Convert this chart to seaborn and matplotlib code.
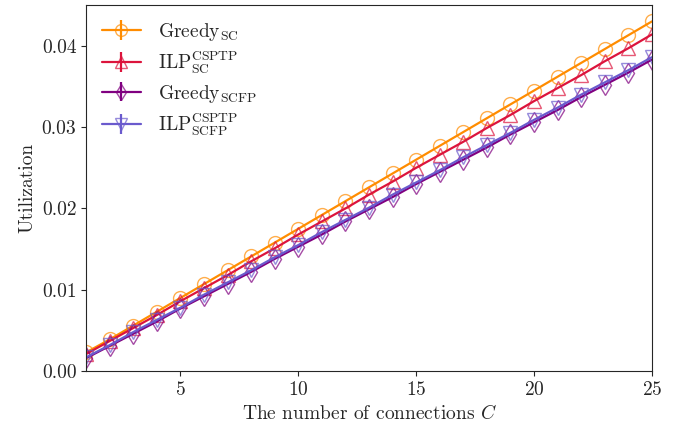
import numpy as np
import seaborn as sns
import matplotlib
matplotlib.use('Agg')
import matplotlib.pyplot as plt
from matplotlib.colors import to_rgba

connections = list(range(1, 26))

greedy_sc = [0.0023, 0.0039, 0.0056, 0.0073, 0.0090, 0.0107, 0.0124, 0.0141, 0.0158, 0.0175,
             0.0192, 0.0209, 0.0226, 0.0243, 0.0260, 0.0277, 0.0294, 0.0311, 0.0328, 0.0345,
             0.0362, 0.0379, 0.0396, 0.0413, 0.0430]
ilp_sc = [0.0021, 0.0037, 0.0053, 0.0069, 0.0086, 0.0102, 0.0118, 0.0135, 0.0151, 0.0168,
          0.0184, 0.0200, 0.0217, 0.0233, 0.0250, 0.0266, 0.0282, 0.0299, 0.0315, 0.0332,
          0.0348, 0.0364, 0.0381, 0.0397, 0.0414]
greedy_scfp = [0.0016, 0.0031, 0.0046, 0.0061, 0.0077, 0.0092, 0.0107, 0.0122, 0.0138, 0.0153,
               0.0168, 0.0184, 0.0199, 0.0214, 0.0230, 0.0245, 0.0260, 0.0275, 0.0291, 0.0306,
               0.0321, 0.0337, 0.0352, 0.0367, 0.0383]
ilp_scfp = [0.0017, 0.0032, 0.0048, 0.0063, 0.0078, 0.0094, 0.0109, 0.0124, 0.0140, 0.0155,
            0.0171, 0.0186, 0.0201, 0.0217, 0.0232, 0.0247, 0.0263, 0.0278, 0.0293, 0.0309,
            0.0324, 0.0340, 0.0355, 0.0370, 0.0386]

labels = [r'$\mathrm{Greedy}_{\mathrm{SC}}$',
          r'$\mathrm{ILP}_{\mathrm{SC}}^{\mathrm{CSPTP}}$',
          r'$\mathrm{Greedy}_{\mathrm{SCFP}}$',
          r'$\mathrm{ILP}_{\mathrm{SCFP}}^{\mathrm{CSPTP}}$']

sns.set_style('ticks')
plt.rcParams['font.family'] = ['cmr10', 'DejaVu Serif']
plt.rcParams['mathtext.fontset'] = 'cm'
plt.rcParams['axes.formatter.use_mathtext'] = True

fig = plt.figure(figsize=(6.84, 4.32), dpi=100)
ax = fig.add_axes([0.126, 0.141, 0.827, 0.847])

series = [greedy_sc, ilp_sc, greedy_scfp, ilp_scfp]
colors = ['darkorange', 'crimson', 'purple', 'slateblue']
markers = ['o', '^', 'd', 'v']
for vals, lab, col, mk in zip(series, labels, colors, markers):
    ax.errorbar(connections, vals, yerr=np.zeros(len(vals)), color=col, marker=mk,
                markersize=10, fillstyle='none', markeredgewidth=1.0,
                markeredgecolor=to_rgba(col, 0.7), linewidth=1.6, label=lab)

ax.set_xlim(1, 25)
ax.set_ylim(0, 0.045)
ax.set_xticks([5, 10, 15, 20, 25])
ax.set_yticks([0.0, 0.01, 0.02, 0.03, 0.04])
ax.set_yticklabels(['0.00', '0.01', '0.02', '0.03', '0.04'])
ax.tick_params(labelsize=14)
ax.set_xlabel(r'The number of connections $C$', fontsize=14)
ax.set_ylabel('Utilization', fontsize=14)
ax.legend(loc='upper left', frameon=False, fontsize=14, handlelength=2.0,
          labelspacing=0.35, markerscale=0.85, handletextpad=0.9,
          borderaxespad=0.4)

fig.savefig('out.png', dpi=100)
